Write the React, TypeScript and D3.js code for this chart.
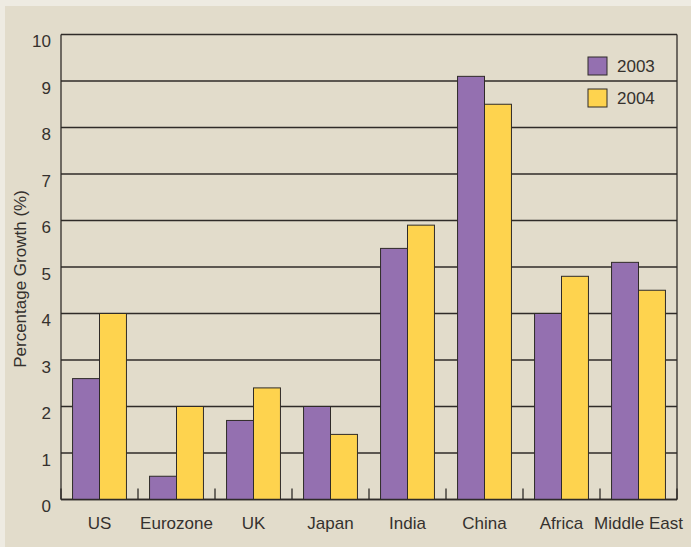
import React from "react";
import * as d3 from "d3";

const categories = ["US", "Eurozone", "UK", "Japan", "India", "China", "Africa", "Middle East"];
const seriesNames = ["2003", "2004"];
const values2003 = [2.6, 0.5, 1.7, 2.0, 5.4, 9.1, 4.0, 5.1];
const values2004 = [4.0, 2.0, 2.4, 1.4, 5.9, 8.5, 4.8, 4.5];
const yTicks = [0, 1, 2, 3, 4, 5, 6, 7, 8, 9, 10];
const colors = ["#9470b0", "#fed34e"];
const yLabel = "Percentage Growth (%)";

const W = 691;
const H = 547;
const left = 61;
const right = 677;
const top = 34.5;
const bottom = 499.5;
const FONT = "'Liberation Sans', Arial, Helvetica, sans-serif";
const INK = "#2f2b28";
const TEXT = "#35312e";

export default function App() {
  const x = d3.scaleBand<string>().domain(categories).range([left, right]).paddingInner(0.3).paddingOuter(0.15);
  const xs = d3.scaleBand<string>().domain(seriesNames).range([0, x.bandwidth()]);
  const y = d3.scaleLinear().domain([0, 10]).range([bottom, top]);
  const series = [values2003, values2004];
  const step = x.step();
  const boundaries = d3.range(categories.length + 1).map((i) => left + i * step);

  return (
    <svg width={W} height={H} style={{ position: "absolute", left: 0, top: 0 }} fontFamily={FONT}>
      <rect x={0} y={0} width={W} height={H} fill="#eeebe2" />
      <rect x={5} y={6} width={W - 5} height={H - 6} fill="#e2dccb" />
      {yTicks.map((t) => (
        <line key={"g" + t} x1={left} x2={right} y1={y(t)} y2={y(t)} stroke={INK} strokeWidth={1.3} />
      ))}
      {boundaries.map((bx, i) => (
        <line key={"t" + i} x1={bx} x2={bx} y1={bottom} y2={bottom - 11} stroke={INK} strokeWidth={1.3} />
      ))}
      {categories.map((c, i) =>
        seriesNames.map((s, j) => {
          const v = series[j][i];
          return (
            <rect
              key={c + s}
              x={(x(c) as number) + (xs(s) as number)}
              y={y(v)}
              width={xs.bandwidth()}
              height={y(0) - y(v)}
              fill={colors[j]}
              stroke={INK}
              strokeWidth={1}
            />
          );
        })
      )}
      <line x1={left} x2={left} y1={top} y2={bottom} stroke={INK} strokeWidth={1.3} />
      <line x1={right} x2={right} y1={top} y2={bottom} stroke={INK} strokeWidth={1.3} />
      <line x1={left} x2={right} y1={bottom} y2={bottom} stroke={INK} strokeWidth={1.3} />
      {yTicks.map((t) => (
        <text key={"l" + t} x={51} y={y(t) + 12.5} textAnchor="end" fontSize={17} fill={TEXT}>
          {t}
        </text>
      ))}
      {categories.map((c) => (
        <text key={"x" + c} x={(x(c) as number) + x.bandwidth() / 2} y={528.5} textAnchor="middle" fontSize={17} fill={TEXT}>
          {c}
        </text>
      ))}
      <text transform={`translate(26,279) rotate(-90)`} textAnchor="middle" fontSize={17} fill={TEXT}>
        {yLabel}
      </text>
      {seriesNames.map((s, j) => (
        <g key={"lg" + s} transform={`translate(588,${57 + j * 32})`}>
          <rect x={0} y={0} width={19} height={18} fill={colors[j]} stroke={INK} strokeWidth={1} />
          <text x={29} y={15} fontSize={17} fill={TEXT}>
            {s}
          </text>
        </g>
      ))}
    </svg>
  );
}
